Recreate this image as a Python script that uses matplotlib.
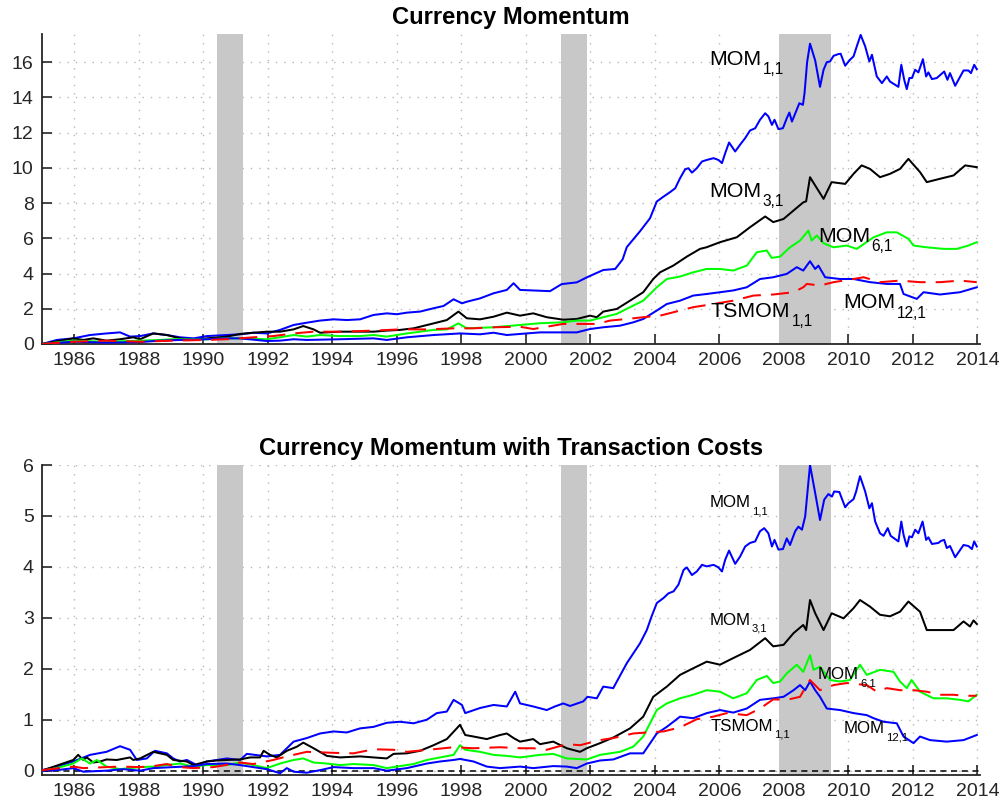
import matplotlib
matplotlib.use("Agg")
import matplotlib.pyplot as plt

plt.rcParams['font.family'] = ['Liberation Sans', 'DejaVu Sans']

# ---------------- data (years, cumulative returns) ----------------
rec_start = [1990.42, 2001.08, 2007.85]
rec_end = [1991.22, 2001.90, 2009.47]

xticks = list(range(1986, 2015, 2))
top_yticks = list(range(0, 17, 2))
bot_yticks = list(range(0, 7))

# Top panel: Currency Momentum
top_mom11_t = [1985.0, 1985.46, 1985.97, 1986.49, 1987.0, 1987.42, 1987.73, 1988.04, 1988.45, 1988.87,
               1989.28, 1989.7, 1990.11, 1990.73, 1991.14, 1991.55, 1991.97, 1992.38, 1992.8, 1993.21,
               1993.62, 1994.04, 1994.45, 1994.86, 1995.28, 1995.69, 1996.0, 1996.31, 1996.72, 1997.14,
               1997.45, 1997.76, 1998.02, 1998.17, 1998.58, 1999.0, 1999.41, 1999.62, 1999.82, 2000.75,
               2001.11, 2001.58, 2001.91, 2002.4, 2002.77, 2003.0, 2003.13, 2003.54, 2003.85, 2004.06,
               2004.27, 2004.47, 2004.63, 2004.78, 2004.94, 2005.04, 2005.15, 2005.3, 2005.46, 2005.61,
               2005.82, 2005.97, 2006.08, 2006.18, 2006.3, 2006.49, 2006.64, 2006.8, 2006.95, 2007.11,
               2007.26, 2007.42, 2007.52, 2007.63, 2007.71, 2007.83, 2007.97, 2008.09, 2008.17, 2008.25,
               2008.4, 2008.48, 2008.59, 2008.64, 2008.72, 2008.81, 2008.97, 2009.12, 2009.23, 2009.33,
               2009.43, 2009.54, 2009.69, 2009.76, 2009.9, 2010.05, 2010.16, 2010.26, 2010.38, 2010.52,
               2010.65, 2010.73, 2010.88, 2011.04, 2011.19, 2011.29, 2011.55, 2011.64, 2011.73, 2011.81,
               2011.89, 2011.97, 2012.07, 2012.17, 2012.31, 2012.41, 2012.48, 2012.59, 2012.74, 2012.85,
               2012.97, 2013.07, 2013.15, 2013.31, 2013.44, 2013.57, 2013.72, 2013.8, 2013.9, 2013.98]
top_mom11_v = [0, 0.23, 0.32, 0.51, 0.6, 0.66, 0.42, 0.45, 0.6, 0.51,
               0.38, 0.32, 0.45, 0.51, 0.55, 0.64, 0.6, 0.8, 1.08, 1.21,
               1.33, 1.4, 1.36, 1.4, 1.65, 1.74, 1.69, 1.78, 1.84, 2.03,
               2.16, 2.54, 2.31, 2.4, 2.59, 2.88, 3.07, 3.45, 3.07, 3.0,
               3.4, 3.5, 3.8, 4.2, 4.26, 4.8, 5.5, 6.4, 7.14, 8.09,
               8.37, 8.62, 8.84, 9.41, 9.92, 9.98, 9.73, 9.98, 10.36, 10.45,
               10.55, 10.45, 10.27, 10.83, 11.44, 10.93, 11.31, 11.69, 12.12, 12.25,
               12.73, 13.1, 12.92, 12.44, 12.73, 12.2, 12.25, 12.82, 13.14, 12.63,
               13.3, 13.67, 13.58, 14.24, 16.0, 17.05, 16.1, 14.6, 15.57, 16.0,
               16.04, 16.36, 16.46, 16.48, 15.8, 16.14, 16.33, 16.9, 17.55, 16.9,
               16.04, 16.42, 15.19, 14.81, 15.19, 14.9, 14.6, 15.85, 15.0, 14.47,
               15.1, 15.1, 15.57, 15.42, 16.17, 15.19, 15.42, 15.04, 15.1, 15.28,
               15.47, 15.0, 15.38, 14.66, 15.1, 15.53, 15.53, 15.38, 15.85, 15.6]

top_mom31_t = [1985.0, 1985.97, 1986.28, 1986.59, 1987.0, 1987.42, 1987.83, 1988.04, 1988.45, 1988.87,
               1989.28, 1989.7, 1990.11, 1990.73, 1991.14, 1991.55, 1991.97, 1992.38, 1992.8, 1993.1,
               1993.42, 1993.62, 1994.24, 1994.86, 1995.28, 1995.69, 1996.1, 1996.52, 1997.14, 1997.55,
               1997.91, 1998.17, 1998.58, 1999.0, 1999.41, 1999.82, 2000.23, 2000.65, 2001.16, 2001.58,
               2001.99, 2002.2, 2002.4, 2002.82, 2003.23, 2003.64, 2003.95, 2004.16, 2004.57, 2004.99,
               2005.4, 2005.6, 2006.02, 2006.54, 2006.95, 2007.42, 2007.67, 2007.99, 2008.3, 2008.6,
               2008.69, 2008.81, 2008.97, 2009.23, 2009.48, 2009.9, 2010.16, 2010.41, 2010.67, 2010.98,
               2011.29, 2011.6, 2011.86, 2012.22, 2012.43, 2012.84, 2013.26, 2013.62, 2013.98]
top_mom31_v = [0, 0.32, 0.23, 0.32, 0.19, 0.27, 0.38, 0.27, 0.6, 0.51,
               0.32, 0.23, 0.32, 0.42, 0.57, 0.64, 0.7, 0.7, 0.83, 1.02,
               0.83, 0.64, 0.7, 0.7, 0.7, 0.76, 0.8, 0.89, 1.17, 1.36,
               1.84, 1.46, 1.4, 1.55, 1.78, 1.61, 1.74, 1.52, 1.38, 1.42,
               1.61, 1.52, 1.84, 1.99, 2.46, 2.94, 3.69, 4.07, 4.45, 4.96,
               5.4, 5.49, 5.78, 6.06, 6.63, 7.24, 6.92, 7.1, 7.58, 8.04,
               8.1, 9.47, 9.0, 8.24, 9.19, 9.09, 9.66, 10.14, 9.94, 9.47,
               9.66, 9.94, 10.51, 9.76, 9.19, 9.38, 9.57, 10.14, 10.04]

top_mom61_t = [1985.0, 1985.97, 1987.0, 1988.04, 1988.66, 1989.07, 1990.11, 1990.73, 1991.14, 1991.97,
               1992.38, 1992.8, 1993.21, 1993.62, 1994.24, 1994.86, 1995.28, 1995.69, 1996.31, 1997.14,
               1997.55, 1997.91, 1998.17, 1999.0, 1999.82, 2000.44, 2001.16, 2001.58, 2001.99, 2002.4,
               2002.82, 2003.23, 2003.64, 2004.06, 2004.37, 2004.78, 2005.19, 2005.61, 2006.02, 2006.43,
               2006.85, 2007.16, 2007.47, 2007.62, 2007.88, 2008.19, 2008.5, 2008.76, 2008.86, 2009.02,
               2009.23, 2009.54, 2009.95, 2010.26, 2010.78, 2011.19, 2011.5, 2011.86, 2012.02, 2012.43,
               2012.95, 2013.36, 2013.72, 2013.98]
top_mom61_v = [0, 0.19, 0.13, 0.19, 0.23, 0.27, 0.27, 0.32, 0.32, 0.27,
               0.38, 0.51, 0.42, 0.51, 0.45, 0.45, 0.51, 0.42, 0.6, 0.8,
               0.83, 1.17, 0.89, 0.95, 1.08, 1.18, 1.23, 1.33, 1.33, 1.52,
               1.71, 2.09, 2.46, 3.22, 3.69, 3.83, 4.07, 4.26, 4.26, 4.17,
               4.45, 5.21, 5.31, 4.89, 4.96, 5.49, 5.87, 6.44, 5.87, 6.16,
               5.72, 5.49, 5.59, 5.4, 6.06, 6.34, 6.34, 5.97, 5.59, 5.49,
               5.4, 5.4, 5.59, 5.78]

top_mom121_t = [1985.0, 1985.97, 1987.0, 1988.04, 1988.66, 1989.28, 1990.11, 1990.73, 1991.14, 1991.97,
                1992.38, 1992.8, 1993.21, 1994.24, 1995.28, 1995.69, 1996.31, 1997.14, 1997.96, 1998.58,
                1999.0, 1999.41, 1999.82, 2000.44, 2001.16, 2001.58, 2001.99, 2002.4, 2002.92, 2003.33,
                2003.64, 2004.06, 2004.37, 2004.78, 2005.19, 2005.61, 2006.02, 2006.43, 2006.85, 2007.26,
                2007.67, 2008.09, 2008.4, 2008.6, 2008.81, 2008.97, 2009.07, 2009.28, 2009.74, 2010.16,
                2010.67, 2011.19, 2011.6, 2011.71, 2012.12, 2012.33, 2012.84, 2013.46, 2013.98]
top_mom121_v = [0, 0.13, 0.08, 0.11, 0.19, 0.23, 0.27, 0.32, 0.32, 0.17,
                0.19, 0.27, 0.23, 0.27, 0.32, 0.23, 0.38, 0.51, 0.6, 0.55,
                0.64, 0.51, 0.57, 0.66, 0.66, 0.66, 0.85, 0.95, 1.04, 1.23,
                1.42, 1.9, 2.27, 2.46, 2.75, 2.84, 2.94, 3.04, 3.22, 3.69,
                3.79, 3.98, 4.36, 4.17, 4.7, 4.26, 4.45, 3.79, 3.69, 3.69,
                3.51, 3.41, 3.41, 2.84, 2.56, 2.94, 2.81, 2.94, 3.22]

top_ts_t = [1985.0, 1985.97, 1987.0, 1988.04, 1989.07, 1990.11, 1990.73, 1991.55, 1992.17, 1992.8,
            1993.42, 1994.24, 1995.28, 1996.1, 1996.93, 1997.76, 1998.38, 1999.0, 1999.82, 2000.23,
            2001.16, 2001.58, 2002.2, 2002.61, 2003.13, 2003.64, 2004.16, 2004.57, 2005.19, 2005.81,
            2006.43, 2007.06, 2007.67, 2008.3, 2008.6, 2008.71, 2009.12, 2009.54, 2010.16, 2010.47,
            2010.98, 2011.6, 2012.22, 2012.84, 2013.46, 2013.98]
top_ts_v = [0, 0.13, 0.19, 0.13, 0.19, 0.23, 0.27, 0.38, 0.45, 0.6,
            0.7, 0.7, 0.76, 0.83, 0.83, 0.89, 0.89, 0.95, 0.98, 0.85,
            1.14, 1.14, 1.14, 1.33, 1.42, 1.52, 1.61, 1.8, 2.09, 2.27,
            2.46, 2.75, 2.81, 2.94, 3.22, 3.41, 3.32, 3.51, 3.69, 3.79,
            3.51, 3.6, 3.51, 3.51, 3.6, 3.51]

# Bottom panel: Currency Momentum with Transaction Costs
bot_mom11_t = [1985.0, 1985.46, 1985.97, 1986.49, 1987.0, 1987.42, 1987.73, 1987.94, 1988.25, 1988.5,
               1988.87, 1989.07, 1989.28, 1989.49, 1989.8, 1990.11, 1990.73, 1991.14, 1991.35, 1991.97,
               1992.38, 1992.8, 1993.21, 1993.62, 1994.04, 1994.45, 1994.86, 1995.28, 1995.69, 1996.1,
               1996.52, 1996.93, 1997.24, 1997.55, 1997.76, 1998.02, 1998.12, 1998.58, 1999.0, 1999.41,
               1999.67, 1999.82, 2000.23, 2000.65, 2000.9, 2001.16, 2001.37, 2001.78, 2001.91, 2002.2,
               2002.4, 2002.71, 2003.13, 2003.54, 2003.75, 2003.9, 2004.06, 2004.27, 2004.42, 2004.58,
               2004.73, 2004.89, 2004.99, 2005.15, 2005.3, 2005.46, 2005.61, 2005.82, 2005.97, 2006.08,
               2006.18, 2006.3, 2006.49, 2006.64, 2006.8, 2006.95, 2007.11, 2007.26, 2007.39, 2007.52,
               2007.63, 2007.71, 2007.83, 2007.97, 2008.09, 2008.19, 2008.35, 2008.45, 2008.56, 2008.66,
               2008.81, 2008.97, 2009.12, 2009.25, 2009.38, 2009.49, 2009.56, 2009.72, 2009.9, 2010.0,
               2010.16, 2010.24, 2010.36, 2010.52, 2010.65, 2010.73, 2010.83, 2010.98, 2011.09, 2011.22,
               2011.31, 2011.55, 2011.64, 2011.71, 2011.81, 2011.89, 2011.97, 2012.07, 2012.17, 2012.3,
               2012.41, 2012.48, 2012.59, 2012.79, 2012.87, 2012.97, 2013.05, 2013.15, 2013.31, 2013.57,
               2013.72, 2013.83, 2013.9, 2013.98]
bot_mom11_v = [0.01, 0.08, 0.18, 0.31, 0.37, 0.48, 0.41, 0.21, 0.24, 0.39,
               0.34, 0.24, 0.18, 0.21, 0.11, 0.18, 0.24, 0.21, 0.33, 0.28,
               0.31, 0.57, 0.64, 0.73, 0.77, 0.75, 0.83, 0.86, 0.94, 0.96,
               0.93, 1.0, 1.13, 1.16, 1.39, 1.29, 1.13, 1.23, 1.29, 1.26,
               1.55, 1.32, 1.26, 1.19, 1.26, 1.32, 1.27, 1.36, 1.45, 1.42,
               1.65, 1.62, 2.11, 2.5, 2.76, 3.03, 3.29, 3.39, 3.48, 3.52,
               3.65, 3.94, 3.99, 3.84, 3.91, 4.04, 4.01, 4.04, 3.99, 3.91,
               4.14, 4.32, 4.06, 4.2, 4.4, 4.47, 4.5, 4.7, 4.76, 4.66,
               4.4, 4.53, 4.34, 4.35, 4.56, 4.43, 4.7, 4.79, 4.73, 4.99,
               6.0, 5.45, 4.92, 5.32, 5.43, 5.38, 5.48, 5.47, 5.17, 5.25,
               5.33, 5.48, 5.78, 5.48, 5.15, 5.25, 4.89, 4.66, 4.61, 4.76,
               4.61, 4.5, 4.89, 4.63, 4.4, 4.6, 4.58, 4.73, 4.66, 4.89,
               4.53, 4.58, 4.45, 4.47, 4.51, 4.53, 4.37, 4.41, 4.19, 4.43,
               4.41, 4.35, 4.5, 4.4]

bot_mom31_t = [1985.0, 1985.97, 1986.12, 1986.28, 1986.39, 1986.59, 1986.8, 1987.0, 1987.32, 1987.73,
               1987.83, 1988.04, 1988.45, 1988.87, 1989.07, 1989.49, 1989.7, 1990.11, 1990.42, 1990.73,
               1991.14, 1991.45, 1991.76, 1991.87, 1992.07, 1992.28, 1992.59, 1992.9, 1993.1, 1993.42,
               1993.83, 1994.24, 1994.86, 1995.28, 1995.69, 1995.9, 1996.31, 1996.72, 1997.14, 1997.55,
               1997.96, 1998.12, 1998.38, 1998.79, 1999.2, 1999.41, 1999.62, 1999.82, 2000.23, 2000.44,
               2000.85, 2001.27, 2001.68, 2001.89, 2002.3, 2002.71, 2003.23, 2003.64, 2003.95, 2004.37,
               2004.78, 2005.19, 2005.61, 2006.02, 2006.43, 2006.95, 2007.42, 2007.67, 2007.99, 2008.3,
               2008.6, 2008.69, 2008.81, 2008.97, 2009.23, 2009.48, 2009.85, 2010.16, 2010.36, 2010.67,
               2010.98, 2011.29, 2011.6, 2011.86, 2012.22, 2012.43, 2012.84, 2013.26, 2013.57, 2013.77,
               2013.88, 2013.98]
bot_mom31_v = [0, 0.21, 0.31, 0.21, 0.26, 0.16, 0.18, 0.22, 0.21, 0.26,
               0.21, 0.24, 0.37, 0.31, 0.21, 0.18, 0.11, 0.18, 0.2, 0.21,
               0.22, 0.26, 0.26, 0.39, 0.31, 0.26, 0.39, 0.47, 0.55, 0.44,
               0.29, 0.26, 0.28, 0.26, 0.24, 0.33, 0.34, 0.39, 0.5, 0.62,
               0.9, 0.7, 0.67, 0.62, 0.7, 0.73, 0.64, 0.57, 0.62, 0.52,
               0.57, 0.44, 0.37, 0.44, 0.54, 0.65, 0.83, 1.06, 1.45, 1.65,
               1.88, 2.01, 2.14, 2.08, 2.21, 2.37, 2.6, 2.44, 2.47, 2.7,
               2.86, 2.76, 3.35, 3.09, 2.76, 3.09, 2.99, 3.19, 3.35, 3.22,
               3.06, 3.03, 3.12, 3.32, 3.12, 2.76, 2.76, 2.76, 2.93, 2.83,
               2.95, 2.88]

bot_mom61_t = [1985.0, 1985.46, 1985.97, 1986.23, 1986.49, 1986.7, 1987.0, 1987.42, 1988.04, 1988.45,
               1988.87, 1989.28, 1989.7, 1990.11, 1990.73, 1991.14, 1991.55, 1991.97, 1992.38, 1992.8,
               1993.1, 1993.42, 1993.83, 1994.24, 1994.66, 1995.28, 1995.69, 1996.1, 1996.52, 1996.93,
               1997.34, 1997.76, 1997.96, 1998.12, 1998.58, 1999.0, 1999.41, 1999.82, 2000.44, 2000.85,
               2001.27, 2001.89, 2002.3, 2002.92, 2003.33, 2003.64, 2004.06, 2004.37, 2004.78, 2005.19,
               2005.61, 2006.02, 2006.43, 2006.85, 2007.16, 2007.47, 2007.67, 2007.88, 2008.09, 2008.4,
               2008.6, 2008.81, 2008.92, 2009.12, 2009.43, 2009.74, 2010.05, 2010.36, 2010.57, 2010.98,
               2011.4, 2011.6, 2011.81, 2011.96, 2012.22, 2012.64, 2013.05, 2013.46, 2013.72, 2013.98]
bot_mom61_v = [0, 0.05, 0.14, 0.24, 0.14, 0.21, 0.08, 0.03, 0.07, 0.08,
               0.11, 0.14, 0.08, 0.11, 0.11, 0.16, 0.11, 0.05, 0.14, 0.21,
               0.24, 0.16, 0.14, 0.11, 0.13, 0.11, 0.05, 0.09, 0.13, 0.21,
               0.26, 0.31, 0.5, 0.41, 0.37, 0.31, 0.29, 0.26, 0.31, 0.33,
               0.24, 0.22, 0.31, 0.37, 0.47, 0.67, 1.19, 1.32, 1.42, 1.49,
               1.58, 1.55, 1.42, 1.52, 1.78, 1.86, 1.72, 1.75, 1.91, 2.08,
               1.94, 2.27, 1.98, 2.04, 1.78, 1.75, 1.78, 2.08, 1.88, 1.98,
               1.94, 1.75, 1.62, 1.78, 1.55, 1.42, 1.42, 1.39, 1.36, 1.49]

bot_mom121_t = [1985.0, 1985.46, 1985.97, 1986.28, 1987.0, 1987.52, 1988.04, 1988.45, 1989.07, 1989.7,
                1990.11, 1990.73, 1991.14, 1991.55, 1991.97, 1992.38, 1992.59, 1992.8, 1993.21, 1993.62,
                1994.04, 1994.66, 1995.28, 1995.69, 1996.31, 1996.93, 1997.34, 1997.76, 1997.96, 1998.38,
                1998.79, 1999.2, 1999.82, 2000.23, 2000.85, 2001.27, 2001.58, 2001.89, 2002.3, 2002.71,
                2003.23, 2003.64, 2004.06, 2004.37, 2004.78, 2005.19, 2005.61, 2006.02, 2006.43, 2006.85,
                2007.26, 2007.67, 2007.99, 2008.3, 2008.5, 2008.66, 2008.81, 2008.97, 2009.12, 2009.33,
                2009.74, 2010.16, 2010.57, 2010.78, 2011.09, 2011.5, 2011.71, 2012.02, 2012.22, 2012.53,
                2013.05, 2013.57, 2013.98]
bot_mom121_v = [0, 0.01, 0.05, -0.02, 0, 0.03, 0, 0.05, 0.07, 0.09,
                0.13, 0.14, 0.11, 0.07, 0.03, -0.05, 0.05, -0.02, -0.04, 0.01,
                0.07, 0.05, 0.05, 0, 0.05, 0.14, 0.18, 0.21, 0.23, 0.18,
                0.08, 0.05, 0.08, 0.05, 0.09, 0.08, 0.05, 0.14, 0.2, 0.22,
                0.34, 0.34, 0.73, 0.86, 1.06, 1.03, 1.13, 1.19, 1.14, 1.22,
                1.39, 1.42, 1.45, 1.58, 1.68, 1.58, 1.75, 1.58, 1.45, 1.22,
                1.19, 1.13, 1.09, 1.03, 0.96, 0.93, 0.67, 0.54, 0.67, 0.6,
                0.57, 0.6, 0.7]

bot_ts_t = [1985.0, 1985.97, 1986.28, 1987.0, 1987.42, 1988.04, 1988.45, 1988.87, 1989.28, 1989.7,
            1990.32, 1991.14, 1991.55, 1992.17, 1992.59, 1993.21, 1994.04, 1994.66, 1995.28, 1995.9,
            1996.31, 1997.14, 1997.76, 1998.38, 1999.2, 1999.82, 2000.23, 2000.65, 2001.27, 2001.68,
            2002.3, 2002.71, 2003.33, 2003.75, 2004.27, 2004.78, 2005.3, 2005.81, 2006.23, 2006.85,
            2007.26, 2007.67, 2008.09, 2008.5, 2008.71, 2008.81, 2009.12, 2009.54, 2009.95, 2010.57,
            2010.88, 2011.19, 2011.6, 2012.02, 2012.43, 2012.84, 2013.26, 2013.57, 2013.98]
bot_ts_v = [0.01, 0.08, 0.05, 0.07, 0.08, 0.07, 0.09, 0.13, 0.07, 0.05,
            0.07, 0.16, 0.13, 0.21, 0.28, 0.37, 0.35, 0.34, 0.42, 0.41,
            0.37, 0.42, 0.46, 0.44, 0.46, 0.44, 0.44, 0.41, 0.52, 0.5,
            0.6, 0.64, 0.73, 0.75, 0.77, 0.85, 1.01, 1.06, 1.13, 1.09,
            1.22, 1.4, 1.39, 1.45, 1.68, 1.78, 1.58, 1.68, 1.72, 1.68,
            1.55, 1.62, 1.58, 1.58, 1.55, 1.49, 1.49, 1.47, 1.47]

# ---------------- figure ----------------
fig = plt.figure(figsize=(10.06, 8.09), dpi=100)
W, H = 1006.0, 809.0
ax1 = fig.add_axes([42 / W, 1 - 344 / H, 938 / W, 310 / H])
ax2 = fig.add_axes([42 / W, 1 - 775 / H, 938 / W, 310 / H])

tick_col = '#262626'
LW = 1.45


def style(ax, yticks):
    ax.set_xlim(1985.0, 2014.08)
    ax.set_xticks(xticks)
    ax.set_yticks(yticks)
    for s in ['top', 'right']:
        ax.spines[s].set_visible(False)
    for s in ['left', 'bottom']:
        ax.spines[s].set_linewidth(1.3)
        ax.spines[s].set_color(tick_col)
    ax.tick_params(direction='in', length=7, width=1.2, colors=tick_col,
                   labelsize=14, pad=6)
    ax.set_axisbelow(True)
    ax.grid(True, linestyle=(0, (1, 5)), color='#b8b8b8', linewidth=1.0)
    for a, b in zip(rec_start, rec_end):
        ax.axvspan(a, b, color='#c8c8c8', lw=0, zorder=1)


def series(ax, t, v, color, dashed=False):
    ln, = ax.plot(t, v, color=color, lw=LW, zorder=3)
    if dashed:
        ln.set_dashes([9, 5])


def label(ax, x, y, main, sub, fs, subfs, drop):
    t = ax.text(x, y, main, fontsize=fs, ha='left', va='baseline', zorder=5)
    ax.annotate(sub, xy=(1, 0), xycoords=t, xytext=(1.0, -drop),
                textcoords='offset points', fontsize=subfs, ha='left',
                va='baseline', zorder=5)


# top panel
style(ax1, top_yticks)
ax1.set_ylim(0, 17.6)
series(ax1, top_mom11_t, top_mom11_v, '#0000ff')
series(ax1, top_mom31_t, top_mom31_v, 'black')
series(ax1, top_mom61_t, top_mom61_v, '#00ff00')
series(ax1, top_mom121_t, top_mom121_v, '#0000ff')
series(ax1, top_ts_t, top_ts_v, '#ff0000', dashed=True)
ax1.set_title('Currency Momentum', fontsize=17.1, fontweight='bold', pad=7)

label(ax1, 2005.68, 15.85, 'MOM', '1,1', 15.4, 11.2, 3.9)
label(ax1, 2005.68, 8.37, 'MOM', '3,1', 15.4, 11.2, 3.9)
label(ax1, 2009.06, 5.81, 'MOM', '6,1', 15.4, 11.2, 3.9)
label(ax1, 2005.73, 1.55, 'TSMOM', '1,1', 15.4, 11.2, 3.9)
label(ax1, 2009.84, 2.03, 'MOM', '12,1', 15.4, 11.2, 3.9)

# bottom panel
style(ax2, bot_yticks)
ax2.set_ylim(-0.085, 6.0)
ax2.axhline(0, color='black', lw=1.1, ls=(0, (4, 3)), zorder=2)
series(ax2, bot_mom11_t, bot_mom11_v, '#0000ff')
series(ax2, bot_mom31_t, bot_mom31_v, 'black')
series(ax2, bot_mom61_t, bot_mom61_v, '#00ff00')
series(ax2, bot_mom121_t, bot_mom121_v, '#0000ff')
series(ax2, bot_ts_t, bot_ts_v, '#ff0000', dashed=True)
ax2.set_title('Currency Momentum with Transaction Costs', fontsize=17.1,
              fontweight='bold', pad=7)

label(ax2, 2005.69, 5.17, 'MOM', '1,1', 12.2, 8.1, 2.9)
label(ax2, 2005.69, 2.86, 'MOM', '3,1', 12.2, 8.1, 2.9)
label(ax2, 2009.05, 1.79, 'MOM', '6,1', 12.2, 8.1, 2.9)
label(ax2, 2005.73, 0.78, 'TSMOM', '1,1', 12.2, 8.1, 2.9)
label(ax2, 2009.85, 0.73, 'MOM', '12,1', 12.2, 8.1, 2.9)

fig.savefig('out.png', dpi=100)
